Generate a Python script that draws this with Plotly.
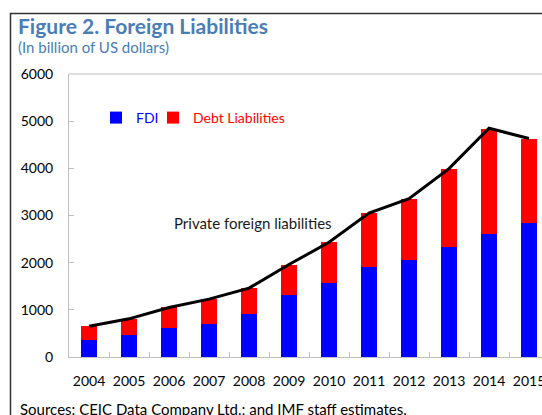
import plotly.graph_objects as go

years = ["2004", "2005", "2006", "2007", "2008", "2009", "2010", "2011", "2012", "2013", "2014", "2015"]
fdi = [362, 461, 610, 709, 922, 1312, 1567, 1901, 2057, 2326, 2603, 2837]
total = [652, 816, 1050, 1227, 1468, 1943, 2433, 3043, 3355, 3993, 4844, 4631]
debt = [t - f for t, f in zip(total, fdi)]
private_line = [650, 809, 1050, 1227, 1461, 1960, 2433, 3050, 3355, 3993, 4850, 4631]

FONT = "Lato, 'Open Sans', sans-serif"
TITLE_BLUE = "#4a7db5"
BLUE = "#0000FF"
RED = "#FF0000"

fig = go.Figure()
fig.add_trace(go.Bar(x=years, y=fdi, name=f"<span style='color:{BLUE}'>FDI</span>",
                     marker=dict(color=BLUE, line=dict(width=0)), width=0.4, legend="legend"))
fig.add_trace(go.Bar(x=years, y=debt, name=f"<span style='color:{RED}'>Debt Liabilities</span>",
                     marker=dict(color=RED, line=dict(width=0)), width=0.4, legend="legend2"))
fig.add_trace(go.Scatter(x=years, y=private_line, mode="lines", name="Private foreign liabilities",
                         line=dict(color="#000000", width=3), showlegend=False))

W, H = 542, 415
L, R, T, B = 69, 0, 74, 58
pw, ph = W - L - R, H - T - B

def px(x):  # screen x -> paper
    return (x - L) / pw

def py(y):  # screen y -> paper
    return (H - B - y) / ph

fig.update_layout(
    width=W, height=H,
    margin=dict(l=L, r=R, t=T, b=B, autoexpand=False),
    paper_bgcolor="white", plot_bgcolor="white",
    barmode="stack",
    font=dict(family=FONT, size=14, color="#000000"),
    showlegend=True,
    legend=dict(orientation="h", x=px(96), y=py(118), xanchor="left", yanchor="middle",
                bgcolor="rgba(0,0,0,0)", itemwidth=30, font=dict(size=14)),
    legend2=dict(orientation="h", x=px(153), y=py(118), xanchor="left", yanchor="middle",
                 bgcolor="rgba(0,0,0,0)", itemwidth=30, font=dict(size=14)),
    xaxis=dict(type="category", range=[-0.5, -0.5 + pw / 40.0], showline=True, linecolor="#bfbfbf",
               linewidth=1, ticks="inside", tickson="boundaries", ticklen=5, tickcolor="#bfbfbf",
               showgrid=False, mirror=False, ticklabelstandoff=11, tickangle=0, automargin=False,
               tickfont=dict(size=14)),
    yaxis=dict(range=[0, 6000], dtick=1000, showline=True, linecolor="#bfbfbf", linewidth=1,
               ticks="inside", ticklen=5, tickcolor="#bfbfbf", showgrid=False, zeroline=False,
               ticklabelstandoff=12, automargin=False, tickfont=dict(size=14)),
)

# top border of plot area and outer frame
fig.add_shape(type="line", xref="paper", yref="paper", x0=0, x1=1.05, y0=1, y1=1,
              line=dict(color="#bfbfbf", width=1))
fig.add_shape(type="path", xref="paper", yref="paper",
              path=f"M {px(10.5)},{py(420)} L {px(10.5)},{py(13.5)} L {px(545)},{py(13.5)}",
              line=dict(color="#333333", width=1.5))

fig.add_annotation(xref="paper", yref="paper", x=px(16), y=py(25), xanchor="left", yanchor="middle",
                   text="<b>Figure 2. Foreign Liabilities</b>", showarrow=False,
                   font=dict(size=21, color=TITLE_BLUE, family=FONT))
fig.add_annotation(xref="paper", yref="paper", x=px(16), y=py(47), xanchor="left", yanchor="middle",
                   text="(In billion of US dollars)", showarrow=False,
                   font=dict(size=15, color=TITLE_BLUE, family=FONT))
fig.add_annotation(xref="paper", yref="paper", x=px(172), y=py(223), xanchor="left", yanchor="middle",
                   text="Private foreign liabilities", showarrow=False,
                   font=dict(size=15, color="#1a1a1a", family=FONT))
fig.add_annotation(xref="paper", yref="paper", x=px(18), y=py(409), xanchor="left", yanchor="middle",
                   text="Sources: CEIC Data Company Ltd.; and IMF staff estimates.", showarrow=False,
                   font=dict(size=15, color="#000000", family=FONT))

fig.write_html(
    "out.html",
    config={"displayModeBar": False},
    post_script="document.body.style.margin='0';document.body.style.overflow='hidden';",
)
